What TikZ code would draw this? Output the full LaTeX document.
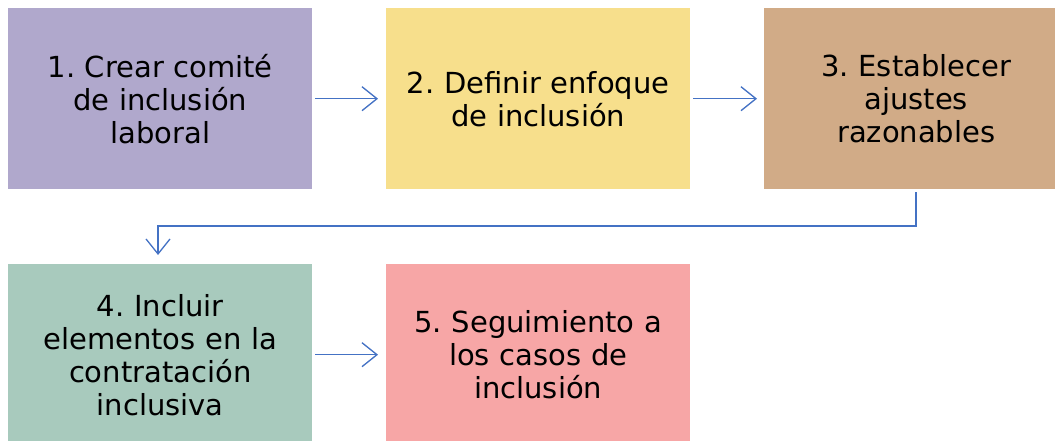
\documentclass[tikz,border=0pt]{standalone}
\usepackage{fontspec}
\setmainfont{DejaVu Sans}
\usetikzlibrary{arrows.meta}
\definecolor{cpurple}{RGB}{176,168,204}
\definecolor{cyellow}{RGB}{247,223,140}
\definecolor{cbrown}{RGB}{209,171,135}
\definecolor{cgreen}{RGB}{168,202,189}
\definecolor{cpink}{RGB}{247,166,166}
\definecolor{carrow}{RGB}{68,114,196}
\frenchspacing
\begin{document}
\begin{tikzpicture}[x=1pt,y=-1pt,
  stepbox/.style={minimum width=304pt,minimum height=181pt,inner sep=0pt,anchor=north west,
    align=center,font=\fontsize{29}{33}\selectfont,text width=300pt},
  conn/.style={draw=carrow,line width=1.3pt,-{Straight Barb[length=15pt,width=24pt,line width=1.3pt]}}]
\useasboundingbox (0,0) rectangle (1055,441);
\node[stepbox,fill=cpurple] (b1) at (8,8) {1. Crear comité\\de inclusión\\laboral};
\node[stepbox,fill=cyellow] (b2) at (386,8) {2. Definir enfoque\\de inclusión};
\node[stepbox,fill=cbrown] (b3) at (764,8) {3. Establecer\\ajustes\\razonables};
\node[stepbox,fill=cgreen] (b4) at (8,264) {4. Incluir\\elementos en la\\contratación\\inclusiva};
\node[stepbox,fill=cpink] (b5) at (386,264) {5. Seguimiento a\\los casos de\\inclusión};
\coordinate (c1) at (916,226);
\coordinate (c2) at (158,226);
\draw[conn] ([xshift=3pt]b1.east) -- ([xshift=-8pt]b2.west);
\draw[conn] ([xshift=3pt]b2.east) -- ([xshift=-7pt]b3.west);
\draw[conn] ([yshift=-3pt]b3.south -| c1) -- (c1) -- (c2) -- ([yshift=9pt]b4.north -| c2);
\draw[conn] ([xshift=3pt]b4.east) -- ([xshift=-8pt]b5.west);
\end{tikzpicture}
\end{document}
